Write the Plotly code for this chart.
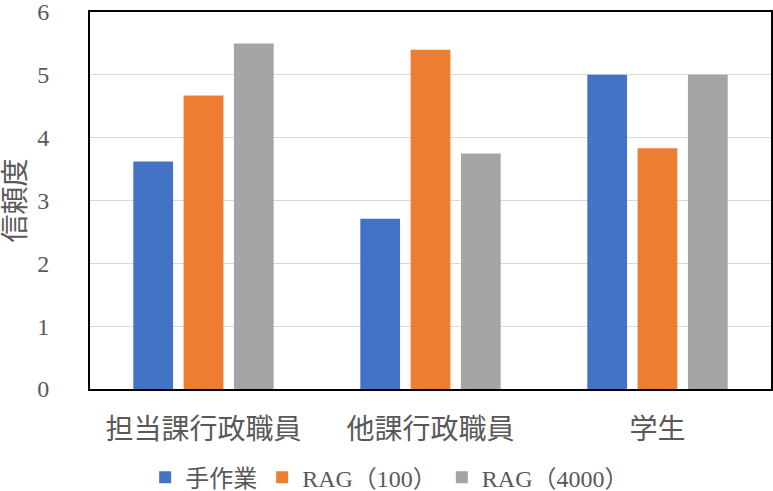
import plotly.graph_objects as go

categories = ["担当課行政職員", "他課行政職員", "学生"]
manual = [3.62, 2.71, 5.0]
rag_100 = [4.67, 5.40, 3.83]
rag_4000 = [5.50, 3.75, 5.0]

series_names = ["手作業", "RAG（100）", "RAG（4000）"]
colors = ["#4472C4", "#ED7D31", "#A5A5A5"]

font_family = "Liberation Serif, Noto Sans CJK JP, serif"
text_color = "#595959"

fig = go.Figure()
for name, vals, color in zip(series_names, [manual, rag_100, rag_4000], colors):
    fig.add_bar(x=categories, y=vals, name=name, marker=dict(color=color, line=dict(width=0)))

fig.update_layout(
    width=773,
    height=491,
    margin=dict(l=90, r=2, t=12, b=102, autoexpand=False),
    paper_bgcolor="white",
    plot_bgcolor="white",
    barmode="group",
    bargap=0.335,
    bargroupgap=0.21,
    font=dict(family=font_family, color=text_color, size=20),
    legend=dict(
        orientation="h",
        x=0.081, xanchor="left",
        y=-0.235, yanchor="middle",
        font=dict(size=24),
        itemwidth=30,
    ),
)

fig.update_xaxes(
    showline=True, mirror=True, linecolor="black", linewidth=2,
    tickfont=dict(size=28),
    ticks="",
    ticklabelstandoff=14,
    automargin=False,
)
fig.update_yaxes(
    range=[0, 6.0001],
    dtick=1,
    showgrid=True, gridcolor="#d9d9d9", gridwidth=1,
    showline=True, mirror=True, linecolor="black", linewidth=2,
    zeroline=False,
    tickfont=dict(size=24),
    ticklabelstandoff=34,
    ticklabeloverflow="allow",
    automargin=False,
    title=dict(text="信頼度", font=dict(size=28), standoff=14),
)

# drop the default 8px page margin so the figure sits at the window corner
fig.write_html(
    "out.html",
    config={"displayModeBar": False},
    post_script="document.body.style.margin='0';",
)
